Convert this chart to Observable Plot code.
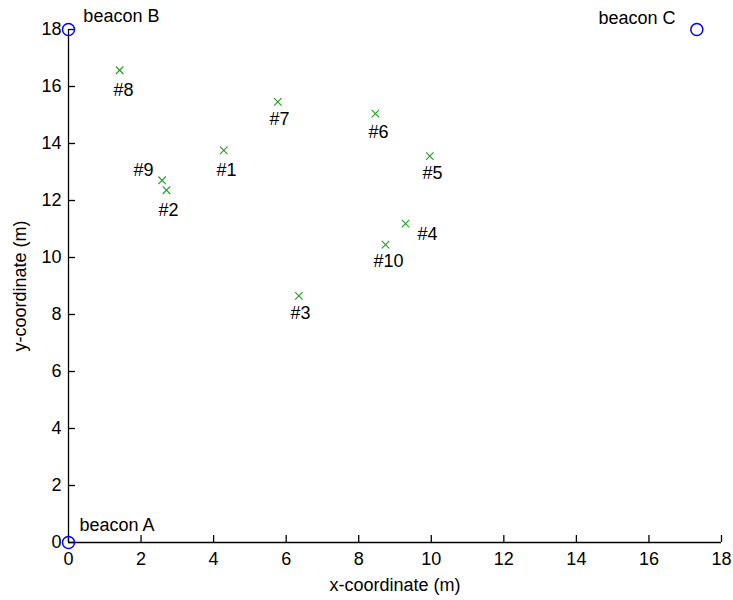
<!DOCTYPE html>
<html>
<head>
<meta charset="utf-8">
<script src="https://cdn.jsdelivr.net/npm/d3@7"></script>
<script src="https://cdn.jsdelivr.net/npm/@observablehq/plot@0.6"></script>
<style>
  html, body { margin: 0; padding: 0; background: #fff; }
</style>
</head>
<body>
<div id="chart"></div>
<script>
// Tag positions (#1..#10)
const tagNames = ["#1", "#2", "#3", "#4", "#5", "#6", "#7", "#8", "#9", "#10"];
const tagX = [4.28, 2.70, 6.35, 9.29, 9.96, 8.46, 5.77, 1.41, 2.58, 8.74];
const tagY = [13.76, 12.36, 8.65, 11.19, 13.56, 15.05, 15.46, 16.57, 12.71, 10.45];
// Annotation anchor points (data coordinates) for the tag labels
const tagLabelX = [4.08, 2.48, 6.12, 9.62, 9.76, 8.27, 5.54, 1.24, 1.79, 8.41];
const tagLabelY = [13.06, 11.66, 8.03, 10.80, 12.95, 14.41, 14.84, 15.87, 13.06, 9.87];

// Beacons
const beaconNames = ["beacon A", "beacon B", "beacon C"];
const beaconX = [0, 0, 17.32];
const beaconY = [0, 18, 18];
const beaconLabelX = [0.30, 0.41, 14.61];
const beaconLabelY = [0.60, 18.47, 18.39];

// Axis ticks
const xTicks = [0, 2, 4, 6, 8, 10, 12, 14, 16, 18];
const yTicks = [0, 2, 4, 6, 8, 10, 12, 14, 16, 18];

const tags = tagNames.map((n, i) => ({name: n, x: tagX[i], y: tagY[i], lx: tagLabelX[i], ly: tagLabelY[i]}));
const beacons = beaconNames.map((n, i) => ({name: n, x: beaconX[i], y: beaconY[i], lx: beaconLabelX[i], ly: beaconLabelY[i]}));

const chart = Plot.plot({
  width: 733,
  height: 600,
  marginLeft: 68,
  marginRight: 12,
  marginTop: 29,
  marginBottom: 58,
  style: {fontFamily: "'Liberation Sans', Arial, sans-serif", fontSize: "18px", color: "#000", background: "#fff", overflow: "visible"},
  x: {domain: [0, 18]},
  y: {domain: [0, 18]},
  marks: [
    Plot.ruleX([0], {stroke: "#000", strokeWidth: 1.3}),
    Plot.ruleY([0], {stroke: "#000", strokeWidth: 1.3}),
    Plot.axisX({ticks: xTicks, tickSize: -7, tickPadding: 17, strokeWidth: 1.3, label: "x-coordinate (m)", labelAnchor: "center", labelOffset: 48, labelArrow: "none"}),
    Plot.axisY({ticks: yTicks, tickSize: -7, tickPadding: 14, strokeWidth: 1.3, label: "y-coordinate (m)", labelAnchor: "center", labelOffset: 55, labelArrow: "none"}),
    Plot.dot(tags, {x: "x", y: "y", symbol: "times", r: 3.5, stroke: "#1e9e1e", strokeWidth: 1.1}),
    Plot.text(tags, {x: "lx", y: "ly", text: "name", textAnchor: "start", lineAnchor: "middle", fill: "#000", fontSize: 18}),
    Plot.dot(beacons, {x: "x", y: "y", symbol: "circle", r: 6, stroke: "#0000ff", fill: "none", strokeWidth: 1.5}),
    Plot.text(beacons, {x: "lx", y: "ly", text: "name", textAnchor: "start", lineAnchor: "middle", fill: "#000", fontSize: 18})
  ]
});
document.getElementById("chart").appendChild(chart);
</script>
</body>
</html>
